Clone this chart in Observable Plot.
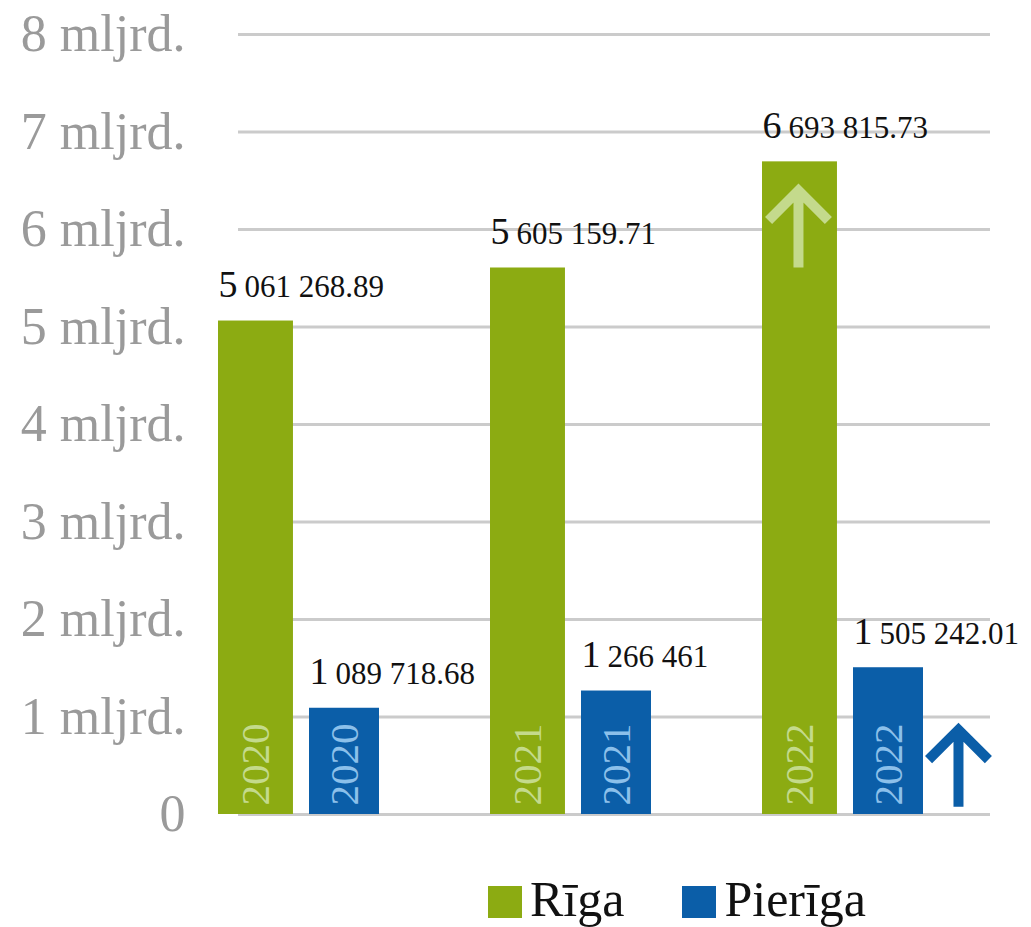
<!DOCTYPE html>
<html>
<head>
<meta charset="utf-8">
<script src="https://cdn.jsdelivr.net/npm/d3@7"></script>
<script src="https://cdn.jsdelivr.net/npm/@observablehq/plot@0.6"></script>
<style>
  html, body { margin: 0; padding: 0; background: #fff; }
  #chart { width: 1031px; }
  .legend { display: flex; align-items: center; height: 57px; padding-top: 20px; padding-left: 488px;
            font-family: "Liberation Serif", serif; font-size: 50px; color: #111; }
  .legend .item { display: flex; align-items: center; margin-right: 58px; }
  .legend .sw { width: 34px; height: 32px; margin-right: 8px; margin-top: 6px; }
</style>
</head>
<body>
<div id="chart"></div>
<script>
// ---- data ----
const years = ["2020", "2021", "2022"];
const series = ["Rīga", "Pierīga"];
const rigaValues = [5061268.89, 5605159.71, 6693815.73];      // thousand EUR
const pierigaValues = [1089718.68, 1266461, 1505242.01];       // thousand EUR
const yTicks = [0, 1e6, 2e6, 3e6, 4e6, 5e6, 6e6, 7e6, 8e6];
const tickLabels = ["0", "1 mljrd.", "2 mljrd.", "3 mljrd.", "4 mljrd.", "5 mljrd.", "6 mljrd.", "7 mljrd.", "8 mljrd."];
const arrowYears = ["2022", "2022"];
const arrowSeries = ["Rīga", "Pierīga"];
const arrowFrom = [5.61e6, 0.08e6];

// ---- styling ----
const colors = {"Rīga": "#8cab12", "Pierīga": "#0b5ea8"};
const lightColors = {"Rīga": "#c4da8c", "Pierīga": "#8cc0ea"};

const W = 1031, H = 850, mL = 218, mR = 41, mT = 34, mB = 36;
const pIn = 0.408, pOut = 0.123;
const step = (W - mL - mR) / (years.length - pIn + 2 * pOut);
const bw = step * (1 - pIn);
const greenW = 75, gap = 16;

const fmt = d3.formatLocale({decimal: ".", thousands: " ", grouping: [3], currency: ["", ""]}).format(",");
const data = years.flatMap((y, i) => [
  {year: y, series: "Rīga", value: rigaValues[i]},
  {year: y, series: "Pierīga", value: pierigaValues[i]}
]);
data.forEach(d => { const s = fmt(d.value); d.head = s.slice(0, 1); d.tail = s.slice(2); });
const arrows = arrowYears.map((y, i) => ({year: y, series: arrowSeries[i], from: arrowFrom[i]}));

const layout = {
  "Rīga":    {insetLeft: 0, insetRight: bw - greenW, start: -bw / 2, center: greenW / 2 - bw / 2, arrowDx: 36 - bw / 2},
  "Pierīga": {insetLeft: greenW + gap, insetRight: 0, start: greenW + gap - bw / 2, center: (greenW + gap + bw) / 2 - bw / 2, arrowDx: 196 - bw / 2}
};

const marks = [
  Plot.ruleY(yTicks, {stroke: "#cbcbcb", strokeWidth: 3, insetLeft: 20})
];
for (const s of series) {
  const L = layout[s];
  const sub = data.filter(d => d.series === s);
  marks.push(
    Plot.barY(sub, {x: "year", y: "value", fill: colors[s], insetLeft: L.insetLeft, insetRight: L.insetRight}),
    Plot.text(sub, {x: "year", frameAnchor: "bottom", text: "year", rotate: -90, textAnchor: "start", lineAnchor: "middle",
                    dx: L.center, dy: -9, fill: lightColors[s], fontSize: 41}),
    Plot.text(sub, {x: "year", y: "value", text: "head", textAnchor: "start", lineAnchor: "bottom",
                    dx: L.start, dy: -24, fill: "#111", fontSize: 38}),
    Plot.text(sub, {x: "year", y: "value", text: "tail", textAnchor: "start", lineAnchor: "bottom",
                    dx: L.start + 26, dy: -24, fill: "#111", fontSize: 31})
  );
  const ar = arrows.filter(d => d.series === s);
  marks.push(
    Plot.vector(ar, {x: "year", y: "from", length: 77, anchor: "start", r: 6.8,
                     stroke: s === "Rīga" ? lightColors[s] : colors[s], strokeWidth: 10,
                     strokeLinecap: "butt", strokeLinejoin: "miter", dx: L.arrowDx})
  );
}
marks.push(
  Plot.axisY(yTicks, {tickSize: 0, tickPadding: 33, tickFormat: (d, i) => tickLabels[yTicks.indexOf(d)],
                      fontSize: 52, color: "#9a9a9a", label: null})
);

const chart = Plot.plot({
  width: W, height: H,
  marginLeft: mL, marginRight: mR, marginTop: mT, marginBottom: mB,
  style: {fontFamily: "Liberation Serif", background: "#fff", overflow: "visible"},
  x: {domain: years, paddingInner: pIn, paddingOuter: pOut, align: 0, axis: null},
  y: {domain: [0, 8e6], axis: null},
  marks
});
document.getElementById("chart").appendChild(chart);

// legend
const legend = document.createElement("div");
legend.className = "legend";
for (const s of series) {
  const item = document.createElement("div");
  item.className = "item";
  const sw = document.createElement("span");
  sw.className = "sw";
  sw.style.background = colors[s];
  const t = document.createElement("span");
  t.textContent = s;
  item.append(sw, t);
  legend.append(item);
}
document.getElementById("chart").appendChild(legend);
</script>
</body>
</html>
